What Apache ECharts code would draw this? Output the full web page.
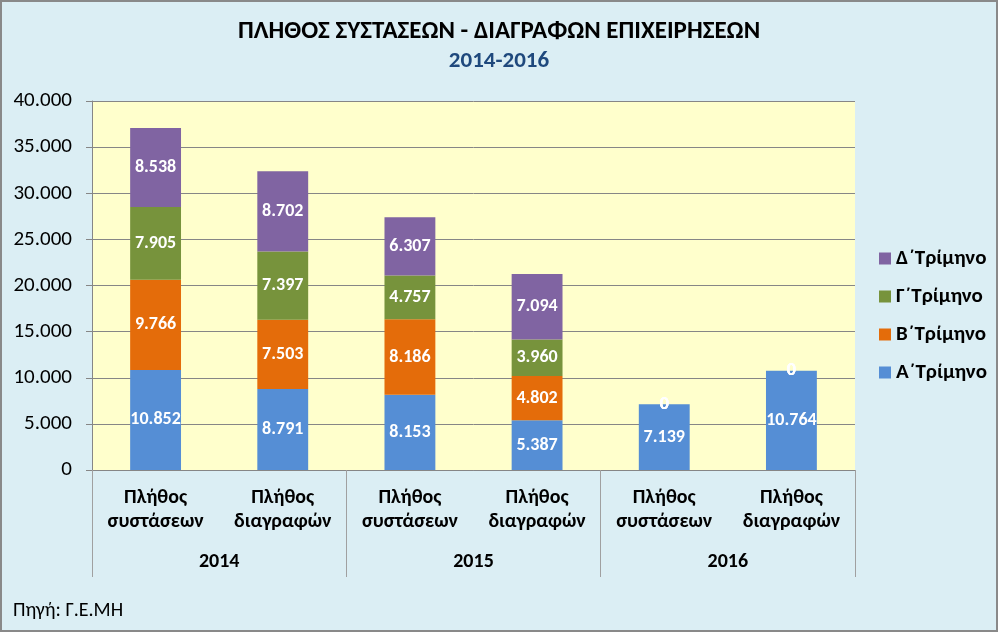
<!DOCTYPE html>
<html>
<head>
<meta charset="utf-8">
<script src="https://cdn.jsdelivr.net/npm/echarts@6/dist/echarts.min.js"></script>
<style>
html,body{margin:0;padding:0;background:#fff;}
#chart{width:998px;height:632px;}
</style>
</head>
<body>
<div id="chart"></div>
<script>
const categories = ['Πλήθος\nσυστάσεων', 'Πλήθος\nδιαγραφών', 'Πλήθος\nσυστάσεων', 'Πλήθος\nδιαγραφών', 'Πλήθος\nσυστάσεων', 'Πλήθος\nδιαγραφών'];
const years = ['2014', '2015', '2016'];
const seriesNames = ['Α΄Τρίμηνο', 'Β΄Τρίμηνο', 'Γ΄Τρίμηνο', 'Δ΄Τρίμηνο'];
const qA = [10852, 8791, 8153, 5387, 7139, 10764];
const qB = [9766, 7503, 8186, 4802, 0, 0];
const qC = [7905, 7397, 4757, 3960, 0, 0];
const qD = [8538, 8702, 6307, 7094, 0, 0];
const yTicks = [0, 5000, 10000, 15000, 20000, 25000, 30000, 35000, 40000];
const colors = ['#558ED5', '#E46C0A', '#77933C', '#8064A2'];

const FONT = 'Carlito, "Liberation Sans", Arial, sans-serif';
function fmt(v) {
  return String(Math.round(v)).replace(/\B(?=(\d{3})+(?!\d))/g, '.');
}
const values = [qA, qB, qC, qD];
const series = values.map((arr, i) => ({
  name: seriesNames[i],
  type: 'bar',
  stack: 'total',
  xAxisIndex: 0,
  barWidth: '40%',
  data: arr,
  itemStyle: { color: colors[i] },
  label: {
    show: true,
    position: 'inside',
    color: '#fff',
    fontWeight: 'bold',
    fontSize: 18,
    fontFamily: FONT,
    formatter: p => fmt(p.value)
  }
}));

const chart = echarts.init(document.getElementById('chart'));
chart.setOption({
  backgroundColor: '#DBEEF4',
  animation: false,
  textStyle: { fontFamily: FONT },
  title: [
    { text: 'ΠΛΗΘΟΣ ΣΥΣΤΑΣΕΩΝ - ΔΙΑΓΡΑΦΩΝ ΕΠΙΧΕΙΡΗΣΕΩΝ', left: 'center', top: 19, padding: 0,
      textStyle: { fontSize: 25, fontWeight: 'bold', color: '#000', fontFamily: FONT } },
    { text: '2014-2016', left: 'center', top: 50, padding: 0,
      textStyle: { fontSize: 23, fontWeight: 'bold', color: '#1F497D', fontFamily: FONT } },
    { text: 'Πηγή: Γ.Ε.ΜΗ', left: 13, top: 601, padding: 0,
      textStyle: { fontSize: 20, fontWeight: 'normal', color: '#000', fontFamily: FONT } }
  ],
  legend: {
    orient: 'vertical',
    left: 874,
    top: 243,
    itemGap: 17,
    itemWidth: 12,
    itemHeight: 12,
    icon: 'rect',
    data: ['Δ΄Τρίμηνο', 'Γ΄Τρίμηνο', 'Β΄Τρίμηνο', 'Α΄Τρίμηνο'],
    textStyle: { fontSize: 21, fontWeight: 'bold', color: '#000', fontFamily: FONT }
  },
  grid: {
    left: 92, right: 143, top: 101, bottom: 162,
    show: true, backgroundColor: '#FFFFCC', borderWidth: 0
  },
  xAxis: [
    {
      type: 'category',
      data: categories,
      position: 'bottom',
      axisLine: { show: true, lineStyle: { color: '#868686', width: 1 } },
      axisTick: { show: false },
      axisLabel: {
        interval: 0, margin: 16, lineHeight: 24,
        fontSize: 20, fontWeight: 'bold', color: '#000', fontFamily: FONT
      }
    },
    {
      type: 'category',
      data: years,
      position: 'bottom',
      axisLine: { show: false },
      axisTick: { show: true, length: 107, interval: 0, lineStyle: { color: '#A0A0A0' } },
      axisLabel: {
        interval: 0, margin: 82,
        fontSize: 20, fontWeight: 'bold', color: '#000', fontFamily: FONT
      }
    }
  ],
  yAxis: {
    type: 'value',
    min: yTicks[0],
    max: yTicks[yTicks.length - 1],
    interval: yTicks[1] - yTicks[0],
    axisLine: { show: true, lineStyle: { color: '#868686' } },
    axisTick: { show: true, length: 6, lineStyle: { color: '#868686' } },
    splitLine: { show: true, lineStyle: { color: '#868686', width: 1 } },
    axisLabel: { margin: 20, fontSize: 21, color: '#000', fontFamily: FONT, formatter: v => fmt(v) }
  },
  graphic: [
    { type: 'rect', z: 100, shape: { x: 1, y: 1, width: 996, height: 630 },
      style: { fill: null, stroke: '#898989', lineWidth: 2 } }
  ],
  series: series
});
</script>
</body>
</html>
